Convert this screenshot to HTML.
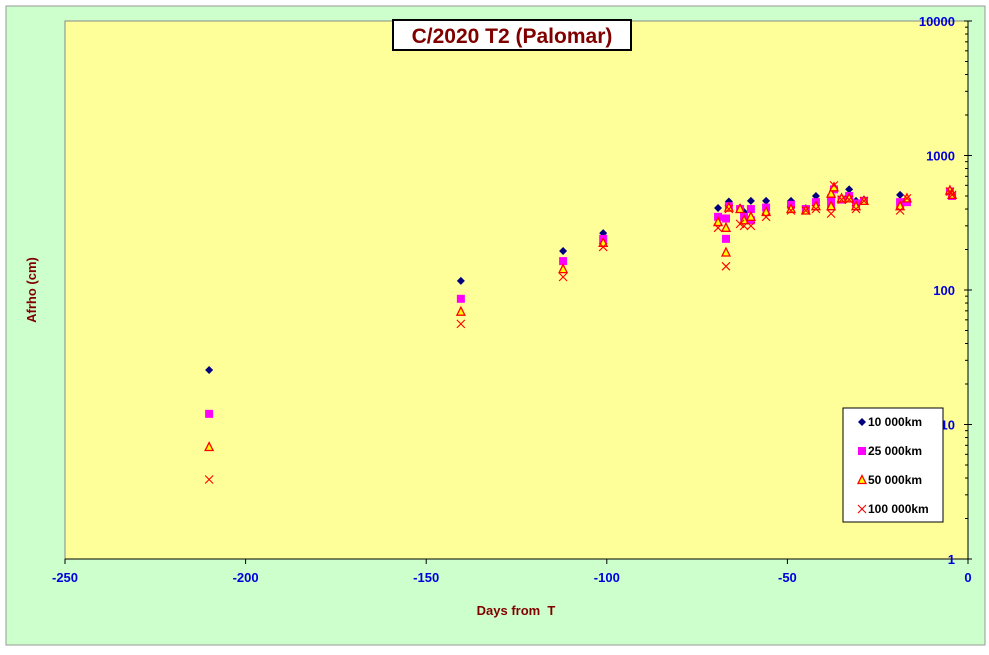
<!DOCTYPE html>
<html><head><meta charset="utf-8"><style>
body{margin:0;background:#fff;}
svg text{font-family:"Liberation Sans",Arial,sans-serif;font-weight:bold;}
</style></head><body>
<svg width="989" height="650" viewBox="0 0 989 650" xmlns="http://www.w3.org/2000/svg">
<rect x="0" y="0" width="989" height="650" fill="#ffffff"/>
<rect x="6" y="6" width="979" height="639" fill="#ccffcc" stroke="#999"/>
<rect x="65" y="21" width="903" height="538" fill="#ffff99" stroke="#888"/>
<line x1="968" y1="21" x2="968" y2="559" stroke="#000"/>
<line x1="65" y1="559" x2="968" y2="559" stroke="#000"/>
<g id="axes"></g>
<g id="marks"></g>
<rect x="393" y="20" width="238" height="30" fill="#fff" stroke="#000" stroke-width="2"/>
<text x="512" y="43" text-anchor="middle" font-size="21" fill="#800000">C/2020 T2 (Palomar)</text>
<text transform="translate(36,290) rotate(-90)" text-anchor="middle" font-size="13" fill="#800000">Afrho (cm)</text>
<text x="516" y="615" text-anchor="middle" font-size="13" fill="#800000" xml:space="preserve">Days from  T</text>
<g>
<rect x="843" y="408" width="100" height="114" fill="#fff" stroke="#000"/>
<g id="legend"></g>
</g>
</svg>
<script>
const xTicks=[-250,-200,-150,-100,-50,0];
const yTicks=[1,10,100,1000,10000];
const yTickLabels=["1","10","100","1000","10000"];
const s1Days=[-210.1,-140.4,-112.1,-101,-69.2,-66.2,-63.1,-62,-60.1,-55.9,-49,-44.9,-42.1,-37.9,-32.9,-31,-28.8,-18.8,-5];
const s1Vals=[25.4,117,195,265,407,455,410,380,460,460,460,405,500,470,560,460,470,510,540];
const s2Days=[-210.1,-140.4,-112.1,-101,-69.2,-67,-67,-66.2,-63.1,-62,-60.1,-60.1,-55.9,-49,-44.9,-42.1,-37.9,-37.9,-37.1,-35,-32.9,-31,-28.8,-18.8,-16.9,-5,-4.4];
const s2Vals=[12,86,164,240,350,340,240,420,400,350,400,330,410,430,400,450,480,420,560,470,500,440,460,450,450,540,500];
const s3Days=[-210.1,-140.4,-112.1,-101,-69.2,-67,-67,-66.2,-63.1,-62,-60.1,-55.9,-49,-44.9,-42.1,-37.9,-37.9,-37.1,-35,-32.9,-31,-28.8,-18.8,-16.9,-5,-4.4];
const s3Vals=[6.8,69,143,224,320,290,190,410,400,330,350,380,400,390,420,520,420,580,480,480,420,460,420,480,550,510];
const s4Days=[-210.1,-140.4,-112.1,-101,-69.2,-67,-66.2,-63.1,-62,-60.1,-55.9,-49,-44.9,-42.1,-37.9,-37.1,-35,-32.9,-31,-28.8,-18.8,-16.9,-5,-4.4];
const s4Vals=[3.9,56,125,209,290,150,400,310,300,300,350,390,390,400,370,600,470,470,400,460,390,480,540,510];
const seriesNames=["10 000km","25 000km","50 000km","100 000km"];

const NS="http://www.w3.org/2000/svg";
const X0=65,X1=968,Y0=559,Y1=21;
function xs(d){return X0+(d+250)/250*(X1-X0);}
function ys(v){return Y0-Math.log10(v)/4*(Y0-Y1);}
function mk(tag,attrs,parent){const e=document.createElementNS(NS,tag);for(const k in attrs)e.setAttribute(k,attrs[k]);parent.appendChild(e);return e;}
const axes=document.getElementById('axes'),marks=document.getElementById('marks'),leg=document.getElementById('legend');
xTicks.forEach(t=>{
 const l=mk('line',{x1:xs(t),x2:xs(t),y1:Y0,y2:Y0+5,stroke:'#000'},axes);
 
 
 const tx=mk('text',{x:xs(t),y:Y0+23,'text-anchor':'middle','font-size':'13',fill:'#0000dd'},axes);
 tx.textContent=t;
 
 
});
yTicks.forEach((t,i)=>{
 const l=mk('line',{x1:X1-4,x2:X1+4,y1:ys(t),y2:ys(t),stroke:'#000'},axes);
 
 
 if(i<yTicks.length-1){for(let m=2;m<10;m++){const ml=mk('line',{x1:X1-3,x2:X1,y1:ys(t*m),y2:ys(t*m),stroke:'#000'},axes);
 
 }}
 const tx=mk('text',{x:X1-13,y:ys(t)+5,'text-anchor':'end','font-size':'13',fill:'#0000dd'},axes);
 tx.textContent=yTickLabels[i];
 
 
});
function diamond(x,y,p){return mk('polygon',{points:`${x},${y-4} ${x+4},${y} ${x},${y+4} ${x-4},${y}`,fill:'#000080'},p);}
function square(x,y,p){return mk('rect',{x:x-4,y:y-4,width:8,height:8,fill:'#ff00ff'},p);}
function tri(x,y,p){return mk('polygon',{points:`${x},${y-4.5} ${x+4},${y+3.5} ${x-4},${y+3.5}`,fill:'#ffff00',stroke:'#ff0000','stroke-width':1.3},p);}
function cross(x,y,p){return mk('path',{d:`M${x-4},${y-4}L${x+4},${y+4}M${x+4},${y-4}L${x-4},${y+4}`,stroke:'#ff0000','stroke-width':1.1},p);}
const series=[[s1Days,s1Vals,diamond,'point-10000km'],[s2Days,s2Vals,square,'point-25000km'],[s3Days,s3Vals,tri,'point-50000km'],[s4Days,s4Vals,cross,'point-100000km']];
series.forEach(([d,v,f,n])=>{d.forEach((dd,i)=>{const e=f(xs(dd),ys(v[i]),marks);
 
 });});
seriesNames.forEach((nm,i)=>{
 const y=422+i*29;
 const e=series[i][2](862,y,leg);
 
 
 const tx=mk('text',{x:868,y:y+4,'font-size':'12',fill:'#000'},leg);
 tx.textContent=nm;
 
 
});
</script>
</body></html>
